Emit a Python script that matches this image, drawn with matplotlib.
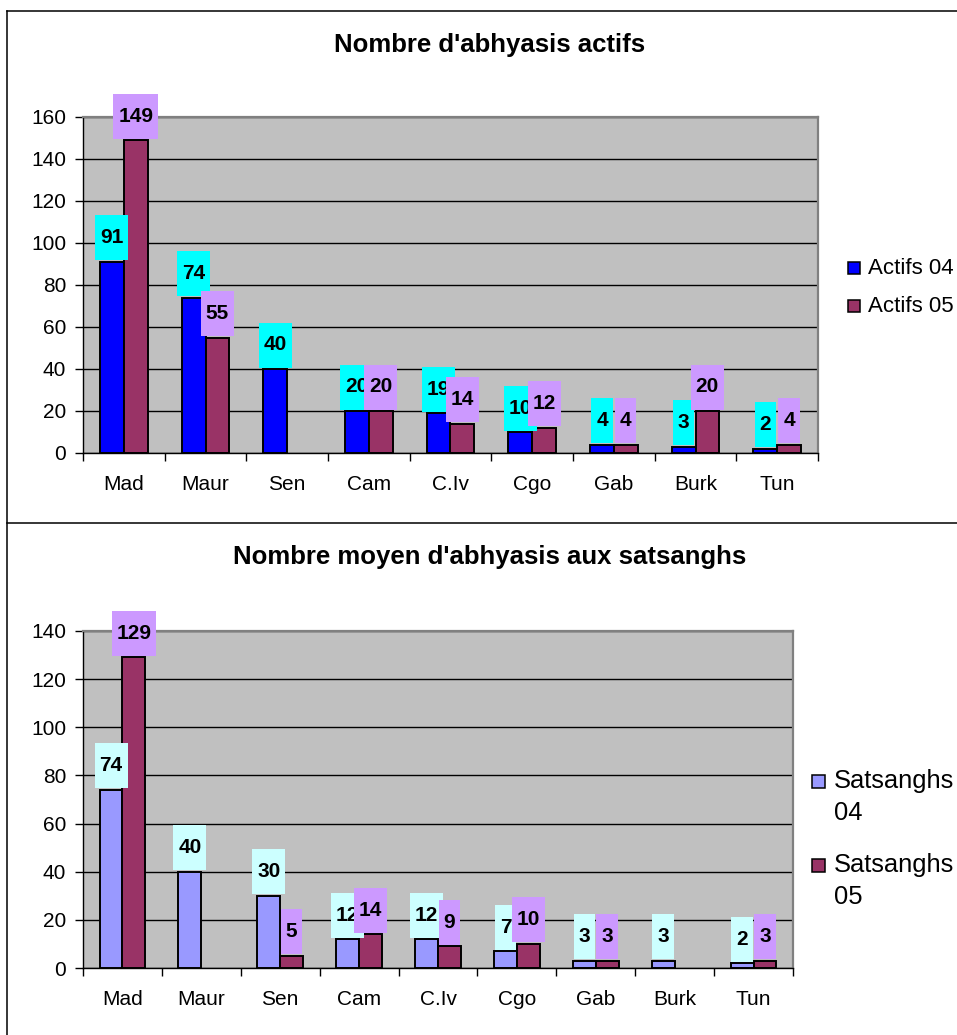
import numpy as np
import matplotlib
matplotlib.use('Agg')
import matplotlib.pyplot as plt
from matplotlib.patches import Rectangle
from matplotlib.lines import Line2D
import matplotlib.transforms as mtransforms

categories = ['Mad', 'Maur', 'Sen', 'Cam', 'C.Iv', 'Cgo', 'Gab', 'Burk', 'Tun']
actifs_04 = [91, 74, 40, 20, 19, 10, 4, 3, 2]
actifs_05 = [149, 55, np.nan, 20, 14, 12, 4, 20, 4]
sats_04 = [74, 40, 30, 12, 12, 7, 3, 3, 2]
sats_05 = [129, np.nan, 5, 14, 9, 10, 3, np.nan, 3]
title_top = "Nombre d'abhyasis actifs"
title_bot = "Nombre moyen d'abhyasis aux satsanghs"
legend_top = ['Actifs 04', 'Actifs 05']
legend_bot = [['Satsanghs', '04'], ['Satsanghs', '05']]
yticks_top = [0, 20, 40, 60, 80, 100, 120, 140, 160]
yticks_bot = [0, 20, 40, 60, 80, 100, 120, 140]

W, H = 957, 1035
plt.rcParams['font.family'] = ['Liberation Sans', 'DejaVu Sans']
fig = plt.figure(figsize=(W / 100, H / 100), dpi=100)
fig.patch.set_facecolor('white')


def fx(px):
    return px / W


def fy(py):
    return 1 - py / H


def add_axes_px(l, t, r, b):
    return fig.add_axes([l / W, 1 - b / H, (r - l) / W, (b - t) / H])


def add_label(ax, xc, v, fc, z):
    s = f'{int(v)}'
    bw = 11.5 * len(s) + 10
    bh = 45
    tr = mtransforms.IdentityTransform() + mtransforms.ScaledTranslation(xc, v, ax.transData)
    rect = Rectangle((-bw / 2, 1.5), bw, bh, facecolor=fc, edgecolor='none',
                     transform=tr, clip_on=False, zorder=z)
    ax.add_patch(rect)
    ax.text(0, 1.5 + bh / 2, s, transform=tr, ha='center', va='center',
            fontsize=15, fontweight='bold', color='black', zorder=z + 0.1)


def draw(ax, s04, s05, c04, c05, lc04, lc05, yticks):
    x = np.arange(len(categories))
    w = 0.29
    ax.set_facecolor('#c0c0c0')
    ax.bar(x - w / 2, s04, w, color=c04, edgecolor='black', linewidth=1.4, zorder=3)
    ax.bar(x + w / 2, s05, w, color=c05, edgecolor='black', linewidth=1.4, zorder=3)
    ax.set_xlim(-0.5, len(categories) - 0.5)
    ax.set_ylim(yticks[0], yticks[-1])
    ax.set_yticks(yticks)
    ax.yaxis.grid(True, color='black', linewidth=1)
    ax.set_axisbelow(True)
    ax.set_xticks(np.arange(-0.5, len(categories), 1))
    ax.set_xticklabels([])
    ax.set_xticks(x, minor=True)
    ax.set_xticklabels(categories, minor=True)
    ax.tick_params(axis='x', which='major', length=6, direction='out', width=1)
    ax.tick_params(axis='x', which='minor', length=0, pad=16, labelsize=15)
    ax.tick_params(axis='y', length=6, width=1, pad=6, labelsize=15)
    for sp in ['top', 'right']:
        ax.spines[sp].set_color('#808080')
        ax.spines[sp].set_linewidth(1.6)
    for sp in ['left', 'bottom']:
        ax.spines[sp].set_color('black')
        ax.spines[sp].set_linewidth(1)
    fig.canvas.draw()
    for xi, v in zip(x - w / 2, s04):
        if not np.isnan(v):
            add_label(ax, xi, v, lc04, 5)
    for xi, v in zip(x + w / 2, s05):
        if not np.isnan(v):
            add_label(ax, xi, v, lc05, 6)


ax1 = add_axes_px(83, 117, 818, 453)
draw(ax1, np.array(actifs_04, float), np.array(actifs_05, float),
     '#0000ff', '#993366', '#00ffff', '#cc99ff', yticks_top)
ax2 = add_axes_px(83, 631, 793, 968)
draw(ax2, np.array(sats_04, float), np.array(sats_05, float),
     '#9999ff', '#993366', '#ccffff', '#cc99ff', yticks_bot)

# titles
fig.text(fx(490), fy(45), title_top, ha='center', va='center', fontsize=18.5, fontweight='bold')
fig.text(fx(490), fy(557), title_bot, ha='center', va='center', fontsize=18.5, fontweight='bold')

# legends
for lab, col, yc in zip(legend_top, ['#0000ff', '#993366'], [268, 306]):
    fig.add_artist(Rectangle((fx(848), fy(yc + 6)), 12 / W, 12 / H, facecolor=col,
                             edgecolor='black', linewidth=1.1, transform=fig.transFigure))
    fig.text(fx(868), fy(yc), lab, ha='left', va='center', fontsize=16)

for lab, col, yc in zip(legend_bot, ['#9999ff', '#993366'], [781, 865]):
    fig.add_artist(Rectangle((fx(812), fy(yc + 6.5)), 13 / W, 13 / H, facecolor=col,
                             edgecolor='black', linewidth=1.1, transform=fig.transFigure))
    fig.text(fx(834), fy(yc), lab[0], ha='left', va='center', fontsize=18.4)
    fig.text(fx(834), fy(yc + 32), lab[1], ha='left', va='center', fontsize=18.4)

# outer frames
fig.add_artist(Line2D([fx(7), fx(7)], [fy(11), fy(H)], color='black', linewidth=1.1))
fig.add_artist(Line2D([fx(7), fx(W)], [fy(11), fy(11)], color='black', linewidth=1.1))
fig.add_artist(Line2D([fx(7), fx(W)], [fy(523), fy(523)], color='black', linewidth=1.1))

fig.savefig('out.png', dpi=100)
